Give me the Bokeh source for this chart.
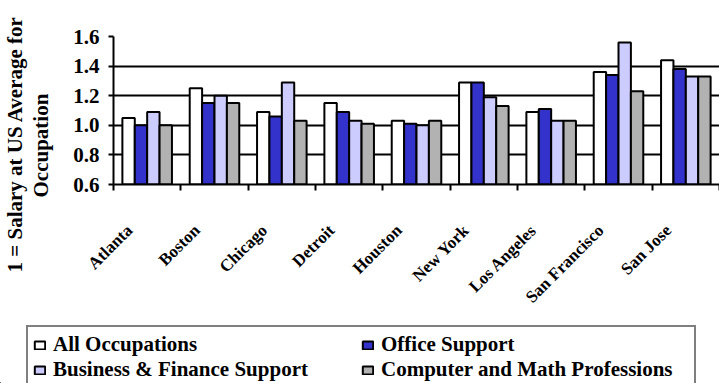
import numpy as np
from math import pi
from bokeh.plotting import figure
from bokeh.layouts import column, row
from bokeh.models import (FixedTicker, Legend, LegendItem, Range1d, Title,
                          NumeralTickFormatter)
from bokeh.embed import file_html
from bokeh.resources import INLINE

# ---------------- data ----------------
cities = ["Atlanta", "Boston", "Chicago", "Detroit", "Houston", "New York",
          "Los Angeles", "San Francisco", "San Jose"]
series_names = ["All Occupations", "Office Support",
                "Business & Finance Support", "Computer and Math Professions"]
all_occupations = [1.05, 1.25, 1.09, 1.15, 1.03, 1.29, 1.09, 1.36, 1.44]
office_support = [1.00, 1.15, 1.06, 1.09, 1.01, 1.29, 1.11, 1.34, 1.38]
business_finance = [1.09, 1.20, 1.29, 1.03, 1.00, 1.19, 1.03, 1.56, 1.33]
computer_math = [1.00, 1.15, 1.03, 1.01, 1.03, 1.13, 1.03, 1.23, 1.33]
y_ticks = [0.6, 0.8, 1.0, 1.2, 1.4, 1.6]
y_title = ["1 = Salary at US Average for", "Occupation"]

series = [all_occupations, office_support, business_finance, computer_math]
colors = ["#FFFFFF", "#3333CC", "#CCCCFF", "#B2B2B2"]

FONT = "Liberation Serif"
W, H = 719, 383
LEG_H = 58
TOP_H = H - LEG_H

# ---------------- main chart ----------------
p = figure(width=W, height=TOP_H, output_backend="svg", toolbar_location=None,
           x_range=Range1d(0, len(cities)), y_range=Range1d(y_ticks[0], y_ticks[-1]),
           min_border_left=110, min_border_right=0, min_border_top=36,
           min_border_bottom=TOP_H - 184)
p.outline_line_color = None
p.background_fill_color = "white"
p.border_fill_color = "white"

idx = np.arange(len(cities))
bw = 0.184
offsets = [-1.5 * bw, -0.5 * bw, 0.5 * bw, 1.5 * bw]
for vals, col, off in zip(series, colors, offsets):
    p.vbar(x=idx + 0.5 + off, top=vals, bottom=y_ticks[0], width=bw,
           fill_color=col, line_color="black", line_width=2)

p.yaxis.ticker = FixedTicker(ticks=y_ticks)
p.yaxis.formatter = NumeralTickFormatter(format="0.0")
p.yaxis.major_label_text_font = FONT
p.yaxis.major_label_text_font_style = "bold"
p.yaxis.major_label_text_font_size = "21px"
p.yaxis.major_label_text_color = "black"
p.yaxis.major_tick_out = 5
p.yaxis.major_tick_in = 0
p.yaxis.major_tick_line_width = 2
p.yaxis.major_tick_line_color = "black"
p.yaxis.minor_tick_line_color = None
p.yaxis.axis_line_width = 2
p.yaxis.axis_line_color = "black"
p.yaxis.major_label_standoff = 9
# invisible spacer label to widen the axis panel
p.yaxis.axis_label = " "
p.yaxis.axis_label_text_font_size = "1px"
p.yaxis.axis_label_text_alpha = 0
p.yaxis.axis_label_standoff = 14

p.ygrid.grid_line_color = "black"
p.ygrid.grid_line_width = 2
p.xgrid.visible = False

shift = 0.24
label_pos = [round(i + shift, 2) for i in range(len(cities))]
p.xaxis.ticker = FixedTicker(ticks=label_pos, minor_ticks=list(range(len(cities) + 1)))
p.xaxis.major_label_overrides = {pos: c for pos, c in zip(label_pos, cities)}
p.xaxis.major_tick_line_color = None
p.xaxis.major_tick_out = 0
p.xaxis.major_tick_in = 0
p.xaxis.minor_tick_out = 6
p.xaxis.minor_tick_in = 0
p.xaxis.minor_tick_line_width = 2
p.xaxis.minor_tick_line_color = "black"
p.xaxis.axis_line_width = 2
p.xaxis.axis_line_color = "black"
p.xaxis.major_label_orientation = pi / 4
p.xaxis.major_label_standoff = 37
p.xaxis.major_label_text_font = FONT
p.xaxis.major_label_text_font_style = "bold"
p.xaxis.major_label_text_font_size = "17px"
p.xaxis.major_label_text_color = "black"

# y title: two lines, the inner one added first
for txt, off in zip(y_title[::-1], [-13, -88]):
    p.add_layout(Title(text=txt, align="left", vertical_align="bottom",
                       offset=off, standoff=0,
                       text_font=FONT, text_font_style="bold",
                       text_font_size="21px", text_color="black"), "left")

# ---------------- legend strip ----------------
lg = figure(width=W, height=LEG_H, output_backend="svg", toolbar_location=None,
            x_range=Range1d(0, W), y_range=Range1d(0, LEG_H), min_border=0)
lg.outline_line_color = None
lg.background_fill_color = "white"
lg.border_fill_color = "white"
lg.xaxis.visible = False
lg.yaxis.visible = False
lg.xgrid.visible = False
lg.ygrid.visible = False
# far off-range proxies, only used for the legend swatches
proxies = [lg.vbar(x=[-5000], top=[-5000], bottom=[-5001], width=1, fill_color=c,
                   line_color="black", line_width=2) for c in colors]
items = [LegendItem(label=n, renderers=[r]) for n, r in zip(series_names, proxies)]
legend = Legend(items=items, location=(26, -6), orientation="horizontal", ncols=2,
                label_text_font=FONT, label_text_font_style="bold",
                label_text_font_size="21px", label_text_color="black",
                glyph_width=13, glyph_height=10, label_standoff=7, label_width=308,
                padding=5, spacing=0, margin=0,
                border_line_color="black", border_line_width=2,
                background_fill_color="white", background_fill_alpha=1.0)
lg.add_layout(legend)

layout = column(row(p), lg)
open("out.html", "w").write(file_html(layout, INLINE))
